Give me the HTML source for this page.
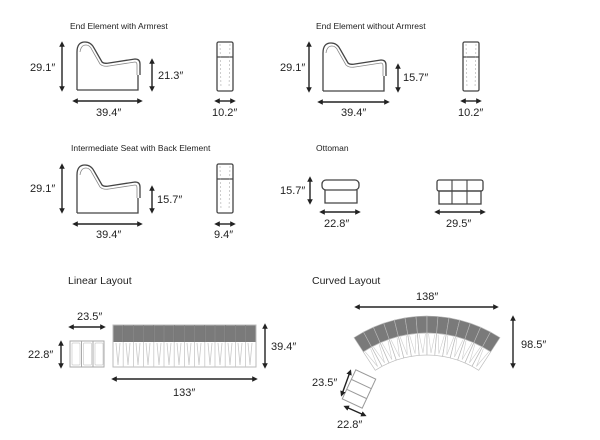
<!DOCTYPE html>
<html><head><meta charset="utf-8"><style>
html,body{margin:0;padding:0;background:#fff;}
svg{display:block;font-family:"Liberation Sans",sans-serif;}
.t{font-size:8.5px;fill:#222;}
.d{font-size:11px;fill:#222;}
.h{font-size:10.5px;fill:#222;}
.s{fill:none;stroke:#444;stroke-width:1.3;}
.a{stroke:#222;stroke-width:1.4;fill:none;marker-start:url(#m);marker-end:url(#m);}
</style></head><body>
<svg width="600" height="440" viewBox="0 0 600 440">
<defs>
<marker id="m" viewBox="0 0 10 10" refX="5" refY="5" markerWidth="4" markerHeight="4" orient="auto-start-reverse"><path d="M0,0L10,5L0,10z" fill="#222"/></marker>
<g id="chairA">
<path class="s" d="M0,48 V10 Q0,0 8,0 Q14,0 17,6 L25,20 Q27,22 32,21 L58,17 Q63,17 63,22 V33 M61,33 V48 H0"/>
<path d="M3,10 Q4,3 9,3 Q13,3 15,8 L23,22 Q26,25 32,24 L58,20 Q60,20 60,23 V33" fill="none" stroke="#888" stroke-width="0.8"/>
</g>
<g id="side">
<rect class="s" x="0" y="0" width="16" height="49" rx="1.5"/>
<line x1="0" y1="15" x2="16" y2="15" stroke="#444" stroke-width="1.2"/>
<path d="M3,2 L4,46 M13,2 L12,46" stroke="#aaa" stroke-width="0.6" stroke-dasharray="2 2"/>
</g>
</defs>

<!-- Block 1 -->
<text class="t" x="70" y="29">End Element with Armrest</text>
<line class="a" x1="62" y1="44" x2="62" y2="89"/>
<text class="d" x="30" y="71">29.1″</text>
<use href="#chairA" x="77" y="42"/>
<line class="a" x1="152" y1="61" x2="152" y2="89"/>
<text class="d" x="158" y="79">21.3″</text>
<line class="a" x1="75" y1="101" x2="140" y2="101"/>
<text class="d" x="96" y="116">39.4″</text>
<use href="#side" x="217" y="42"/>
<line class="a" x1="217" y1="101" x2="233" y2="101"/>
<text class="d" x="212" y="116">10.2″</text>

<!-- Block 2 -->
<text class="t" x="316" y="29">End Element without Armrest</text>
<line class="a" x1="309" y1="44" x2="309" y2="90"/>
<text class="d" x="280" y="71">29.1″</text>
<use href="#chairA" x="323" y="43"/>
<line class="a" x1="398" y1="66" x2="398" y2="90"/>
<text class="d" x="403" y="81">15.7″</text>
<line class="a" x1="320" y1="102" x2="387" y2="102"/>
<text class="d" x="341" y="116">39.4″</text>
<use href="#side" x="463" y="42"/>
<line class="a" x1="463" y1="101" x2="479" y2="101"/>
<text class="d" x="458" y="116">10.2″</text>

<!-- Block 3 -->
<text class="t" x="71" y="151">Intermediate Seat with Back Element</text>
<line class="a" x1="62" y1="166" x2="62" y2="211"/>
<text class="d" x="30" y="192">29.1″</text>
<use href="#chairA" x="77" y="165"/>
<line class="a" x1="152" y1="188" x2="152" y2="211"/>
<text class="d" x="157" y="203">15.7″</text>
<line class="a" x1="75" y1="224" x2="140" y2="224"/>
<text class="d" x="96" y="238">39.4″</text>
<use href="#side" x="217" y="164"/>
<line class="a" x1="217" y1="224" x2="233" y2="224"/>
<text class="d" x="214" y="238">9.4″</text>

<!-- Ottoman -->
<text class="t" x="316" y="151">Ottoman</text>
<line class="a" x1="310" y1="179" x2="310" y2="202"/>
<text class="d" x="280" y="194">15.7″</text>
<path class="s" d="M325,190 V203 H357 V190"/>
<rect class="s" x="322" y="180" width="37" height="10" rx="4"/>
<line class="a" x1="322" y1="212" x2="358" y2="212"/>
<text class="d" x="324" y="227">22.8″</text>
<rect class="s" x="437" y="180" width="46" height="11" rx="2"/>
<rect class="s" x="439" y="191" width="42" height="13"/>
<path d="M452,180V204M467,180V204" stroke="#444" stroke-width="1.1"/>
<line class="a" x1="437" y1="212" x2="483" y2="212"/>
<text class="d" x="446" y="227">29.5″</text>

<!-- Linear -->
<text class="h" x="68" y="284">Linear Layout</text>
<text class="d" x="77" y="320">23.5″</text>
<line class="a" x1="71" y1="327" x2="103" y2="327"/>
<text class="d" x="28" y="358">22.8″</text>
<line class="a" x1="61" y1="343" x2="61" y2="366"/>
<rect x="70" y="341" width="34" height="26" fill="none" stroke="#aaa" stroke-width="1"/>
<path d="M81.5,341V367M93,341V367" stroke="#aaa"/>
<rect x="72" y="343" width="8" height="22" rx="1" fill="none" stroke="#ccc" stroke-width="0.7"/>
<rect x="83.5" y="343" width="8" height="22" rx="1" fill="none" stroke="#ccc" stroke-width="0.7"/>
<rect x="95" y="343" width="8" height="22" rx="1" fill="none" stroke="#ccc" stroke-width="0.7"/>
<rect x="113" y="325" width="143" height="17" fill="#7a7a7a"/>
<rect x="113" y="325" width="143" height="42" fill="none" stroke="#bbb"/>
<g stroke="#c8c8c8" stroke-width="0.8">
<path d="M123.2,325V367M133.4,325V367M143.6,325V367M153.8,325V367M164,325V367M174.2,325V367M184.4,325V367M194.6,325V367M204.8,325V367M215,325V367M225.2,325V367M235.4,325V367M245.6,325V367"/>
<path d="M116,343L118,365M120,343L118,365M126,343L128,365M130,343L128,365M136,343L138,365M140,343L138,365M146,343L148,365M150,343L148,365M157,343L159,365M161,343L159,365M167,343L169,365M171,343L169,365M177,343L179,365M181,343L179,365M187,343L189,365M191,343L189,365M197,343L199,365M201,343L199,365M208,343L210,365M212,343L210,365M218,343L220,365M222,343L220,365M228,343L230,365M232,343L230,365M238,343L240,365M242,343L240,365M248,343L250,365M252,343L250,365"/>
</g>
<g stroke="#666" stroke-width="0.6"><path d="M123.2,325V342M133.4,325V342M143.6,325V342M153.8,325V342M164,325V342M174.2,325V342M184.4,325V342M194.6,325V342M204.8,325V342M215,325V342M225.2,325V342M235.4,325V342M245.6,325V342"/></g>
<line class="a" x1="265" y1="326" x2="265" y2="366"/>
<text class="d" x="271" y="350">39.4″</text>
<line class="a" x1="114" y1="379" x2="255" y2="379"/>
<text class="d" x="173" y="396">133″</text>

<!-- Curved -->
<text class="h" x="312" y="284">Curved Layout</text>
<line class="a" x1="357" y1="307" x2="496" y2="307"/>
<text class="d" x="416" y="300">138″</text>
<g id="curve">
<!-- generated seats -->
</g>
<line class="a" x1="513" y1="318" x2="513" y2="366"/>
<text class="d" x="521" y="348">98.5″</text>
<g transform="translate(359,389) rotate(25)">
<rect x="-11" y="-16" width="22" height="32" fill="none" stroke="#999"/>
<path d="M-11,-5.5H11M-11,5.5H11" stroke="#999"/>
</g>
<line class="a" x1="350" y1="372" x2="342" y2="394"/>
<text class="d" x="312" y="386">23.5″</text>
<line class="a" x1="346" y1="407" x2="364" y2="415"/>
<text class="d" x="337" y="428">22.8″</text>
</svg>
<script>
(function(){
var g=document.getElementById('curve'),ns='http://www.w3.org/2000/svg';
var cx=427,cy=450,R=134,Rm=117,r=95,n=14,a0=-33,a1=33,h='';
function p(rad,deg){var t=deg*Math.PI/180;return (cx+rad*Math.sin(t)).toFixed(1)+','+(cy-rad*Math.cos(t)).toFixed(1);}
for(var i=0;i<n;i++){var s=a0+(a1-a0)*i/n,e=a0+(a1-a0)*(i+1)/n,m=(s+e)/2;
h+='<path d="M'+p(R,s)+'L'+p(R,e)+'L'+p(Rm,e)+'L'+p(Rm,s)+'Z" fill="#7a7a7a" stroke="#bbb" stroke-width="0.6"/>';
h+='<path d="M'+p(Rm,s)+'L'+p(Rm,e)+'L'+p(r,e)+'L'+p(r,s)+'Z" fill="#fff" stroke="#bbb" stroke-width="0.7"/>';
h+='<path d="M'+p(Rm-1,s+0.8)+'L'+p(r+2,m)+'L'+p(Rm-1,e-0.8)+'" fill="none" stroke="#ccc" stroke-width="0.6"/>';}
g.innerHTML=h;
})();
</script>
</body></html>
